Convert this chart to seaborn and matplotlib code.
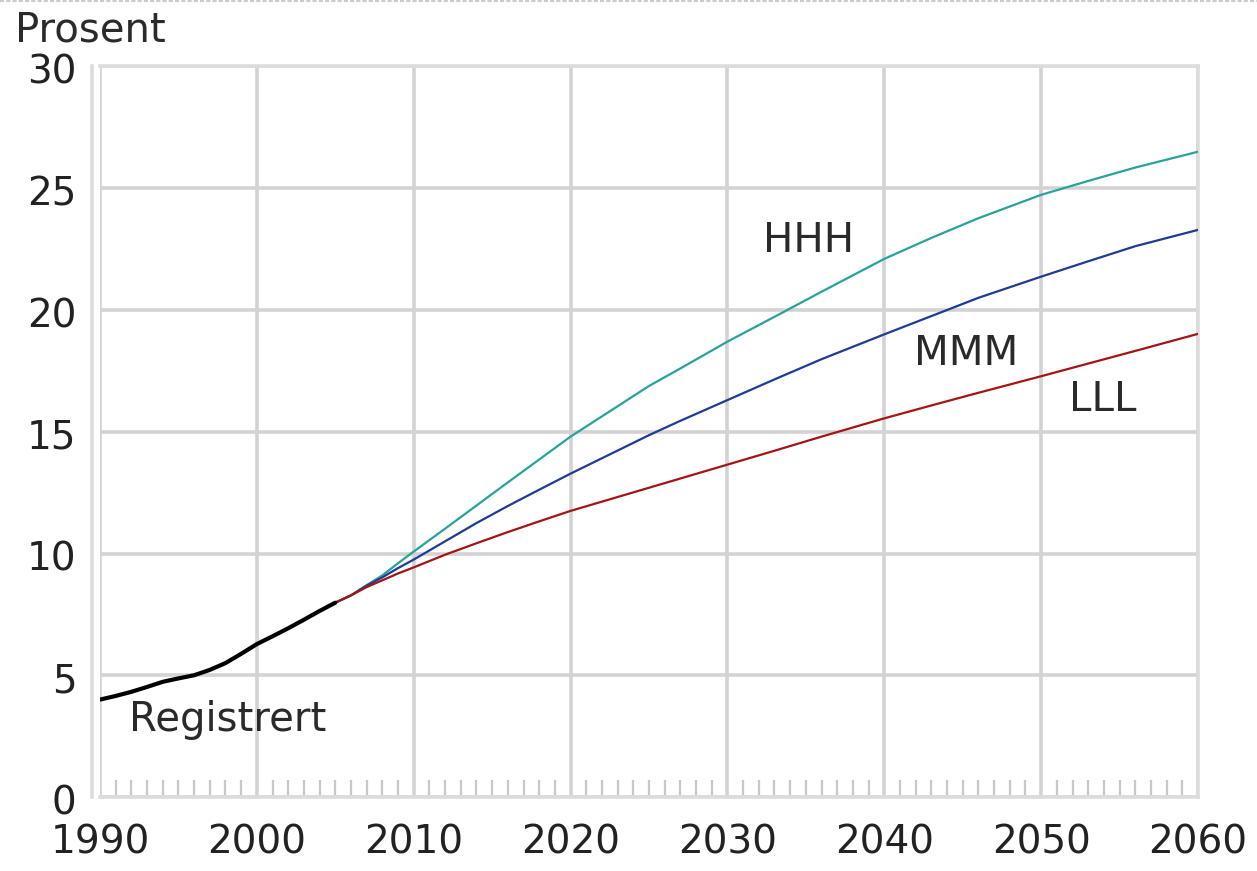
import numpy as np
import pandas as pd
import matplotlib
matplotlib.use("Agg")
import matplotlib.pyplot as plt
import matplotlib.transforms as mtransforms
import seaborn as sns
from matplotlib.ticker import MultipleLocator

# ---- data ----
reg_years = [1990, 1991, 1992, 1993, 1994, 1995, 1996, 1997, 1998, 1999,
             2000, 2001, 2002, 2003, 2004, 2005]
reg_values = [4.0, 4.15, 4.32, 4.52, 4.73, 4.87, 5.0, 5.22, 5.5, 5.88,
              6.28, 6.6, 6.93, 7.28, 7.64, 7.98]

proj_years = [2005, 2006, 2007, 2008, 2009, 2010, 2012, 2014, 2016, 2018,
              2020, 2025, 2027, 2030, 2033, 2036, 2040, 2043, 2046, 2050,
              2053, 2056, 2060]
hhh_values = [7.98, 8.28, 8.7, 9.1, 9.6, 10.08, 11.02, 11.97, 12.92, 13.86,
              14.8, 16.88, 17.6, 18.7, 19.72, 20.75, 22.1, 22.96, 23.77, 24.73,
              25.3, 25.85, 26.5]
mmm_values = [7.98, 8.28, 8.68, 9.02, 9.4, 9.75, 10.5, 11.25, 11.95, 12.62,
              13.28, 14.86, 15.45, 16.3, 17.15, 17.98, 19.0, 19.75, 20.5, 21.37,
              22.0, 22.62, 23.29]
lll_values = [7.98, 8.28, 8.62, 8.9, 9.18, 9.43, 9.95, 10.42, 10.88, 11.32,
              11.75, 12.7, 13.08, 13.65, 14.22, 14.8, 15.55, 16.08, 16.6, 17.28,
              17.8, 18.32, 19.02]

x_ticks = [1990, 2000, 2010, 2020, 2030, 2040, 2050, 2060]
y_ticks = [0, 5, 10, 15, 20, 25, 30]
y_label = "Prosent"
series_labels = ["HHH", "MMM", "LLL"]
reg_label = "Registrert"

# ---- build frames ----
reg_df = pd.DataFrame({"year": reg_years, "value": reg_values})
proj_df = pd.concat([
    pd.DataFrame({"year": proj_years, "value": hhh_values, "alt": "HHH"}),
    pd.DataFrame({"year": proj_years, "value": mmm_values, "alt": "MMM"}),
    pd.DataFrame({"year": proj_years, "value": lll_values, "alt": "LLL"}),
], ignore_index=True)

sns.set_style("white")
plt.rcParams["font.family"] = ["DejaVu Sans"]

W, H = 1257, 871
fig = plt.figure(figsize=(W / 100, H / 100), dpi=100)
ax = fig.add_axes([100 / W, 1 - 797 / H, (1198 - 100) / W, (797 - 66.5) / H])

palette = {"HHH": "#28a29b", "MMM": "#1f3a98", "LLL": "#a31414"}
sns.lineplot(data=proj_df, x="year", y="value", hue="alt", palette=palette,
             hue_order=["HHH", "MMM", "LLL"], linewidth=1.6, ax=ax,
             legend=False, zorder=3)
sns.lineplot(data=reg_df, x="year", y="value", color="black", linewidth=3.0,
             ax=ax, legend=False, zorder=4)

ax.set_xlim(1990, 2060)
ax.set_ylim(0, 30)
ax.set_xticks(x_ticks)
ax.set_yticks(y_ticks)
ax.xaxis.set_minor_locator(MultipleLocator(1))
ax.set_xlabel("")
ax.set_ylabel("")

grid_c = "#d3d3d3"
ax.grid(True, which="major", color=grid_c, linewidth=2.6, zorder=0)
ax.set_axisbelow(True)

for side in ["left", "right", "top", "bottom"]:
    ax.spines[side].set_color("#dcdcdc")
    ax.spines[side].set_linewidth(2.6)
ax.spines["left"].set_position(("outward", 6))

ax.tick_params(axis="x", which="major", length=0, pad=19, labelsize=28,
               labelcolor="#222222")
ax.tick_params(axis="x", which="minor", direction="in", length=12, width=1.6,
               color="#c8c8c8", bottom=True)
ax.tick_params(axis="y", which="major", length=0, pad=11, labelsize=28,
               labelcolor="#222222")

# y tick labels sit slightly below their gridlines in the reference
offset = mtransforms.ScaledTranslation(0, -2 / 100, fig.dpi_scale_trans)
for lab in ax.get_yticklabels():
    lab.set_transform(lab.get_transform() + offset)

txt_kw = dict(fontsize=29, color="#2a2a2a", ha="center", va="center", zorder=5)
ax.text(2035.2, 22.83, series_labels[0], **txt_kw)
ax.text(2045.2, 18.19, series_labels[1], **txt_kw)
ax.text(2053.95, 16.3, series_labels[2], **txt_kw)
ax.text(1998.15, 3.15, reg_label, **txt_kw)

fig.text(15 / W, 1 - 11 / H, y_label, fontsize=29, color="#2a2a2a",
         ha="left", va="top")
fig.add_artist(plt.Line2D([0, 1], [1 - 1 / H, 1 - 1 / H], color="#cccccc",
                          linewidth=1.5, linestyle=(0, (2, 1))))

fig.savefig("out.png", dpi=100)
